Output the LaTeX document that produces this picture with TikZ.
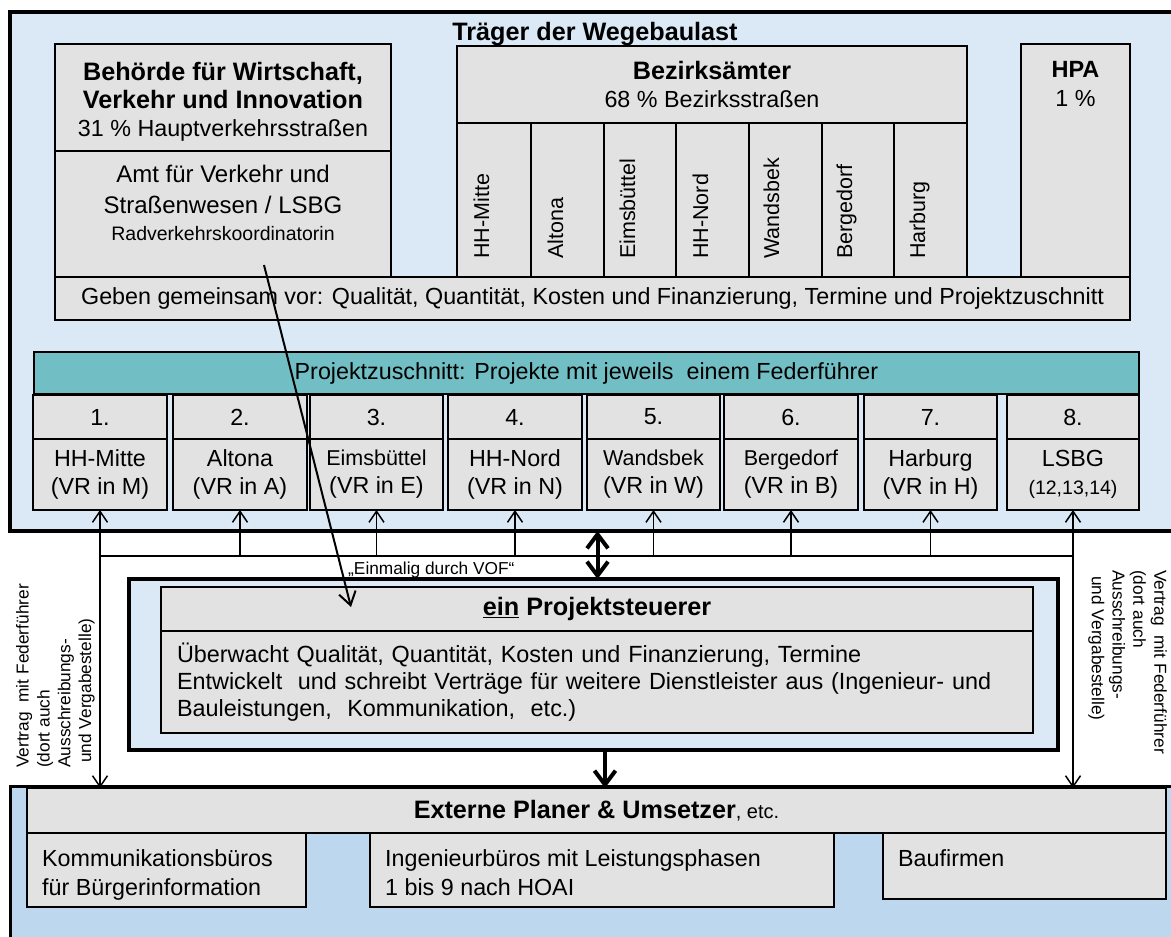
\documentclass[tikz,border=0pt]{standalone}
\usepackage{fontspec}
\setmainfont{Liberation Sans}
\usepackage{tikz}
\usetikzlibrary{arrows.meta}

\definecolor{rahmenblau}{RGB}{219,233,246}
\definecolor{planerblau}{RGB}{189,215,238}
\definecolor{kastengrau}{RGB}{226,226,226}
\definecolor{petrol}{RGB}{113,191,196}

\newcommand{\titel}{\fontsize{25.2}{28}\selectfont\bfseries}
\newcommand{\gross}{\fontsize{23.3}{28}\selectfont\mdseries}
\newcommand{\mittel}{\fontsize{21.5}{26}\selectfont\mdseries}
\newcommand{\klein}{\fontsize{19.5}{24}\selectfont\mdseries}
\newcommand{\winzig}{\fontsize{17.3}{20.8}\selectfont\mdseries}

\begin{document}
\begin{tikzpicture}[x=1pt,y=-1pt,
  rahmen/.style={draw, fill=rahmenblau, line width=3.2pt, anchor=north west, inner sep=0pt, outer sep=0pt},
  kasten/.style={draw, fill=kastengrau, line width=1.8pt, anchor=north west, inner sep=0pt, outer sep=0pt, align=center, font=\gross},
  nummer/.style={kasten, minimum height=44pt},
  bezirk/.style={kasten, minimum height=71pt},
  spalte/.style={font=\mittel, rotate=90, anchor=base west, inner sep=0pt},
  seitentext/.style={font=\winzig, align=left, anchor=north west, inner sep=0pt},
  duenn/.style={line width=1.5pt, >={Straight Barb[length=11pt,width=15pt]}},
  dick/.style={line width=4pt, >={Straight Barb[length=14pt,width=21pt]}}]
\useasboundingbox (0,0) rectangle (1171,937);
\clip (0,0) rectangle (1171,937);

% Traeger der Wegebaulast
\node[rahmen, minimum width=1175pt, minimum height=519pt] (traeger) at (10,12) {};
\node[font=\titel, anchor=base, inner sep=0pt] (titel) at (595,40) {Träger der Wegebaulast};

\node[kasten, minimum width=336pt, minimum height=107pt] (behoerde) at (55,44) {};
\node[font=\gross, align=center, anchor=north, inner sep=0pt] (behoerdetext) at (223,62.5)
  {\titel Behörde für Wirtschaft,\\\titel Verkehr und Innovation\\31 \% Hauptverkehrsstraßen};
\node[kasten, minimum width=336pt, minimum height=126pt] (amt) at (55,151) {};
\node[font=\fontsize{24}{31}\selectfont, align=center, anchor=north, inner sep=0pt] (amttext) at (223,165)
  {Amt für Verkehr und\\Straßenwesen / LSBG\\[-4pt]\klein Radverkehrskoordinatorin};

\node[kasten, minimum width=510pt, minimum height=77pt] (bezirke) at (457,46)
  {\titel Bezirksämter\\68 \% Bezirksstraßen};
\node[kasten, minimum width=74pt, minimum height=154pt] (bz1) at (457,123) {};
\node[kasten, minimum width=73pt, minimum height=154pt] (bz2) at (531,123) {};
\node[kasten, minimum width=72pt, minimum height=154pt] (bz3) at (604,123) {};
\node[kasten, minimum width=73pt, minimum height=154pt] (bz4) at (676,123) {};
\node[kasten, minimum width=73pt, minimum height=154pt] (bz5) at (749,123) {};
\node[kasten, minimum width=72pt, minimum height=154pt] (bz6) at (822,123) {};
\node[kasten, minimum width=73pt, minimum height=154pt] (bz7) at (894,123) {};
\node[spalte] (bzt1) at (489,259) {HH-Mitte};
\node[spalte] (bzt2) at (563,259) {Altona};
\node[spalte] (bzt3) at (635,259) {Eimsbüttel};
\node[spalte] (bzt4) at (708,259) {HH-Nord};
\node[spalte] (bzt5) at (779,259) {Wandsbek};
\node[spalte] (bzt6) at (852,259) {Bergedorf};
\node[spalte] (bzt7) at (925,259) {Harburg};

\node[kasten, minimum width=109pt, minimum height=233pt] (hpa) at (1021,44) {};
\node[font=\fontsize{23.5}{28}\selectfont\bfseries, align=center, anchor=north, inner sep=0pt] (hpatext) at (1075.5,61)
  {HPA\\[1pt]\gross 1 \%};

\node[kasten, minimum width=1075pt, minimum height=43pt] (geben) at (55,277)
  {Geben gemeinsam vor: Qualität, Quantität, Kosten und Finanzierung, Termine und Projektzuschnitt};

% Projektzuschnitt
\node[kasten, fill=petrol, minimum width=1105pt, minimum height=42pt] (zuschnitt) at (34,352)
  {Projektzuschnitt: Projekte mit jeweils~ einem Federführer};

\node[nummer, minimum width=134pt] (n1) at (33,395) {1.};
\node[bezirk, minimum width=134pt] (p1) at (33,439) {HH-Mitte\\(VR in M)};
\node[nummer, minimum width=134pt] (n2) at (173,395) {2.};
\node[bezirk, minimum width=134pt] (p2) at (173,439) {Altona\\(VR in A)};
\node[nummer, minimum width=133pt] (n3) at (310,395) {3.};
\node[bezirk, minimum width=133pt] (p3) at (310,439) {\mittel Eimsbüttel\\(VR in E)};
\node[nummer, minimum width=134pt] (n4) at (448,395) {4.};
\node[bezirk, minimum width=134pt] (p4) at (448,439) {HH-Nord\\(VR in N)};
\node[nummer, minimum width=133pt] (n5) at (587,395) {5.};
\node[bezirk, minimum width=133pt] (p5) at (587,439) {\mittel Wandsbek\\(VR in W)};
\node[nummer, minimum width=134pt] (n6) at (724,395) {6.};
\node[bezirk, minimum width=134pt] (p6) at (724,439) {\mittel Bergedorf\\(VR in B)};
\node[nummer, minimum width=133pt] (n7) at (864,395) {7.};
\node[bezirk, minimum width=133pt] (p7) at (864,439) {Harburg\\(VR in H)};
\node[nummer, minimum width=132pt] (n8) at (1007,395) {8.};
\node[bezirk, minimum width=132pt] (p8) at (1007,439) {LSBG\\\klein (12,13,14)};

% Externe
\node[rahmen, fill=planerblau, line width=3pt, minimum width=1175pt, minimum height=170pt] (extern) at (10,786) {};
\node[kasten, minimum width=1139pt, minimum height=45pt] (planer) at (27,788)
  {{\titel Externe Planer \& Umsetzer}{\fontsize{20}{24}\selectfont, etc.}};
\node[kasten, minimum width=279pt, minimum height=74pt] (komm) at (27,833) {};
\node[font=\fontsize{23.3}{29}\selectfont, align=left, anchor=north west, inner sep=0pt] (kommtext) at (42,849.5)
  {Kommunikationsbüros\\für Bürgerinformation};
\node[kasten, minimum width=464pt, minimum height=74pt] (ing) at (370,833) {};
\node[font=\fontsize{23.3}{29}\selectfont, align=left, anchor=north west, inner sep=0pt] (ingtext) at (385,849.5)
  {Ingenieurbüros mit Leistungsphasen\\1 bis 9 nach HOAI};
\node[kasten, minimum width=283pt, minimum height=66pt] (bau) at (883,833) {};
\node[font=\gross, anchor=base west, inner sep=0pt] (bautext) at (898,866) {Baufirmen};

% Projektsteuerer
\node[rahmen, line width=4pt, minimum width=929pt, minimum height=171pt] (steuer) at (129,579) {};
\node[kasten, minimum width=872pt, minimum height=44pt, font=\titel] (steuerkopf) at (161,587)
  {\underline{ein} Projektsteuerer};
\node[kasten, minimum width=872pt, minimum height=102pt, text width=840pt, inner xsep=16pt, align=left,
  font=\fontsize{23.4}{27}\selectfont] (aufgaben) at (161,631)
  {Überwacht Qualität, Quantität, Kosten und Finanzierung, Termine\\
   Entwickelt~ und schreibt Verträge für weitere Dienstleister aus (Ingenieur- und\\
   Bauleistungen,~ Kommunikation,~ etc.)};

% Vertrag links und rechts
\node[seitentext, rotate=90] (vertraglinks) at (16,768)
  {Vertrag~ mit Federführer\\(dort auch\\Ausschreibungs-\\\hspace{5pt}und Vergabestelle)};
\node[seitentext, rotate=-90] (vertragrechts) at (1167,570)
  {Vertrag~ mit Federführer\\(dort auch\\Ausschreibungs-\\\hspace{6pt}und Vergabestelle)};

% Verbindungen
\coordinate (schiene) at (0,556);
\draw[duenn] (p1.south |- schiene) -- (p8.south |- schiene);
\draw[duenn, <->] (p1.south) -- (p1.south |- planer.north);
\draw[duenn, <->] (p8.south) -- (p8.south |- planer.north);
\draw[duenn, ->] (p2.south |- schiene) -- (p2.south);
\draw[duenn, ->] (p3.south |- schiene) -- (p3.south);
\draw[duenn, ->] (p4.south |- schiene) -- (p4.south);
\draw[duenn, ->] (p5.south |- schiene) -- (p5.south);
\draw[duenn, ->] (p6.south |- schiene) -- (p6.south);
\draw[duenn, ->] (p7.south |- schiene) -- (p7.south);

\draw[dick, <->] (traeger.south) -- (traeger.south |- steuer.north);
\draw[dick, ->] ([xshift=11.5pt]steuer.south) -- ([xshift=11.5pt]steuer.south |- planer.north);

% VOF
\coordinate (vofanfang) at (264,265);
\coordinate (vofende) at (351,607);
\draw[line width=2pt, >={Straight Barb[length=13pt,width=17pt]}, ->] (vofanfang) -- (vofende);
\node[font=\winzig, anchor=west, inner sep=0pt] (vof) at (348,570) {„Einmalig durch VOF“};
\end{tikzpicture}
\end{document}
